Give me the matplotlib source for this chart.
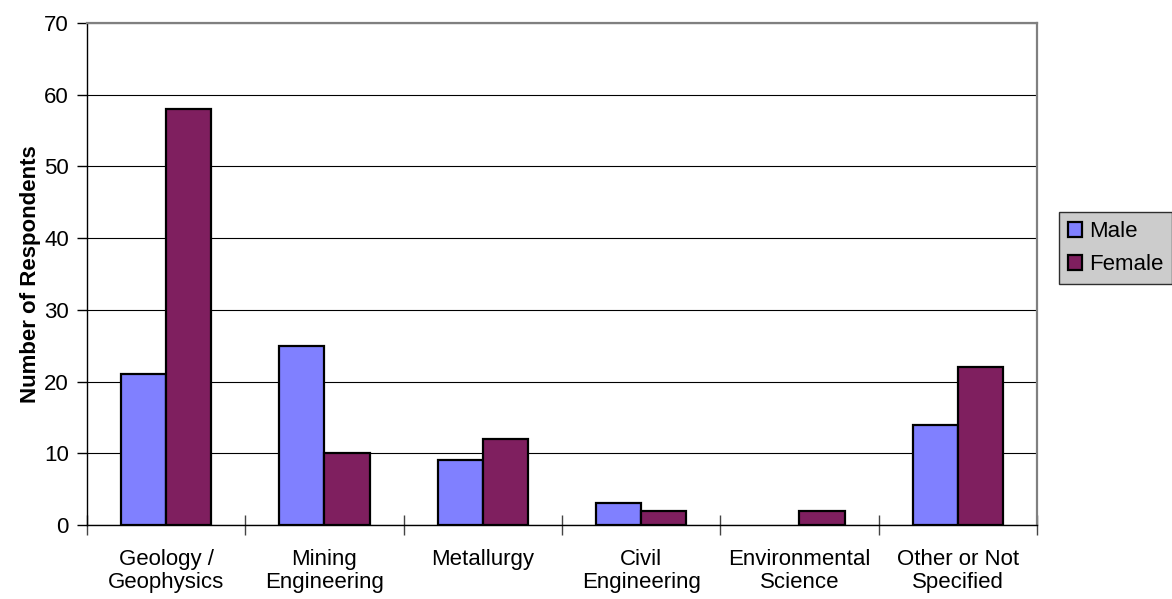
import numpy as np
import matplotlib
matplotlib.use("Agg")
import matplotlib.pyplot as plt
from matplotlib.ticker import FixedLocator

plt.rcParams['font.family'] = ['Liberation Sans', 'DejaVu Sans']

categories = ["Geology /\nGeophysics", "Mining\nEngineering", "Metallurgy",
              "Civil\nEngineering", "Environmental\nScience", "Other or Not\nSpecified"]
male = [21, 25, 9, 3, 0, 14]
female = [58, 10, 12, 2, 2, 22]
y_ticks = [0, 10, 20, 30, 40, 50, 60, 70]

male_color = "#8080FF"
female_color = "#7F1F5F"
fs = 16

fig = plt.figure(figsize=(11.72, 5.99), dpi=100)
ax = fig.add_axes([87 / 1172, 74 / 599, 950 / 1172, 502 / 599])

x = np.arange(len(categories))
w = 0.285
bars_m = ax.bar(x - w / 2, male, w, color=male_color, edgecolor="black", linewidth=1.6,
                label="Male", zorder=3)
bars_f = ax.bar(x + w / 2, female, w, color=female_color, edgecolor="black", linewidth=1.6,
                label="Female", zorder=3)
# empty bars get no outline
for b in list(bars_m) + list(bars_f):
    if b.get_height() == 0:
        b.set_visible(False)

ax.set_xlim(-0.5, len(categories) - 0.5)
ax.set_ylim(0, 70)
ax.set_yticks(y_ticks)
ax.yaxis.grid(True, color="black", linewidth=0.8, zorder=0)
ax.set_axisbelow(True)

# category boundaries carry the tick marks, centres carry the labels
ax.xaxis.set_major_locator(FixedLocator(np.arange(len(categories) + 1) - 0.5))
ax.xaxis.set_minor_locator(FixedLocator(x))
ax.set_xticklabels([])
ax.set_xticklabels(categories, minor=True, linespacing=1.15)
ax.tick_params(axis="x", which="major", direction="inout", length=14, width=1,
               color="#444444")
ax.tick_params(axis="x", which="minor", length=0, pad=17, labelsize=fs)
ax.tick_params(axis="y", direction="out", length=7, width=1, labelsize=fs, pad=6)

for side in ("top", "right"):
    ax.spines[side].set_color("#808080")
    ax.spines[side].set_linewidth(1.6)
for side in ("left", "bottom"):
    ax.spines[side].set_color("black")
    ax.spines[side].set_linewidth(1.0)

ax.set_ylabel("Number of Respondents", fontsize=fs, fontweight="bold", labelpad=2)

leg = fig.legend(loc="center left", bbox_to_anchor=(1059 / 1172, 1 - 248 / 599),
                 fontsize=fs, frameon=True, fancybox=False, shadow=False,
                 handlelength=0.65, handleheight=0.65, handletextpad=0.3,
                 borderpad=0.4, labelspacing=0.55, borderaxespad=0)
leg.get_frame().set_facecolor("#C0C0C0")
leg.get_frame().set_edgecolor("black")
leg.get_frame().set_linewidth(1.0)
for h in leg.legend_handles:
    h.set_linewidth(1.6)

fig.savefig("out.png", dpi=100)
